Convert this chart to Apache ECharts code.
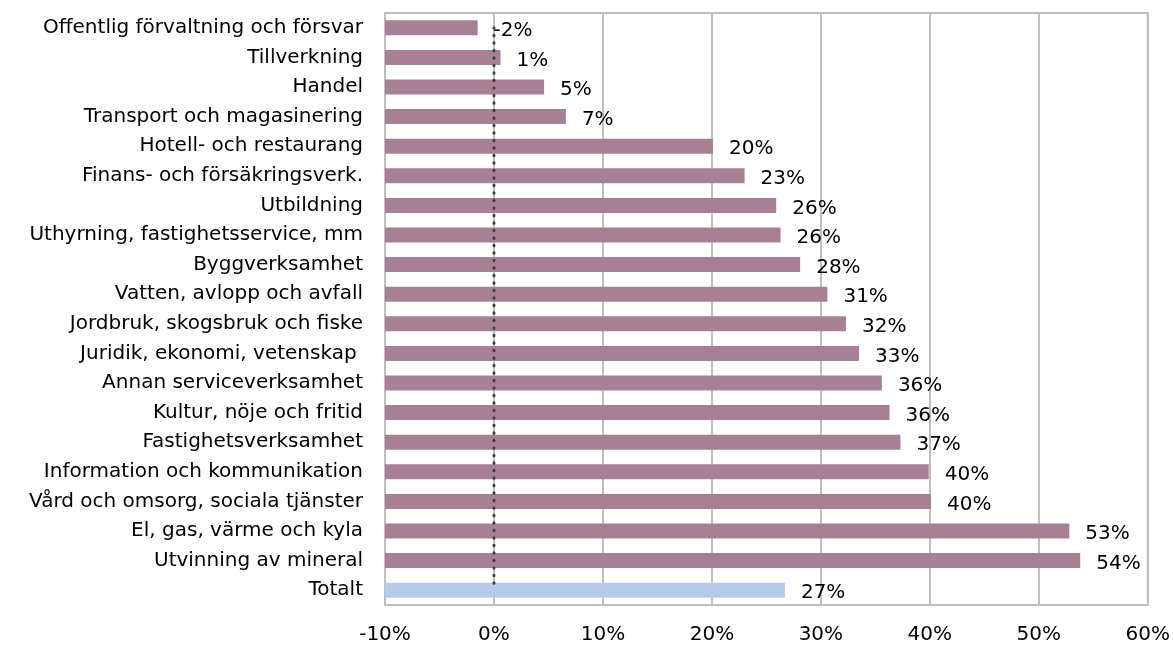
<!DOCTYPE html>
<html>
<head>
<meta charset="utf-8">
<script src="https://cdn.jsdelivr.net/npm/echarts@6/dist/echarts.min.js"></script>
<style>
html,body{margin:0;padding:0;background:#fff;}
#chart{width:1173px;height:645px;}
</style>
</head>
<body>
<div id="chart"></div>
<script>
var categories = [
  "Offentlig förvaltning och försvar",
  "Tillverkning",
  "Handel",
  "Transport och magasinering",
  "Hotell- och restaurang",
  "Finans- och försäkringsverk.",
  "Utbildning",
  "Uthyrning, fastighetsservice, mm",
  "Byggverksamhet",
  "Vatten, avlopp och avfall",
  "Jordbruk, skogsbruk och fiske",
  "Juridik, ekonomi, vetenskap ",
  "Annan serviceverksamhet",
  "Kultur, nöje och fritid",
  "Fastighetsverksamhet",
  "Information och kommunikation",
  "Vård och omsorg, sociala tjänster",
  "El, gas, värme och kyla",
  "Utvinning av mineral",
  "Totalt"
];
var values = [-1.5, 0.6, 4.6, 6.6, 20.1, 23.0, 25.9, 26.3, 28.1, 30.6, 32.3, 33.5, 35.6, 36.3, 37.3, 39.9, 40.1, 52.8, 53.8, 26.7];
var valueLabels = ["-2%", "1%", "5%", "7%", "20%", "23%", "26%", "26%", "28%", "31%", "32%", "33%", "36%", "36%", "37%", "40%", "40%", "53%", "54%", "27%"];
var zeroLine = [0, 0, 0, 0, 0, 0, 0, 0, 0, 0, 0, 0, 0, 0, 0, 0, 0, 0, 0, 0];
var xTicks = { min: -10, max: 60, interval: 10 };

var barColor = '#A88096';
var totalColor = '#B4CBEC';
var font = 'DejaVu Sans, sans-serif';
var fs = 20;

var chart = echarts.init(document.getElementById('chart'));
var barData = values.map(function (v, i) { return [v, categories[i]]; });

chart.setOption({
  animation: false,
  backgroundColor: '#fff',
  grid: {
    left: 385, right: 25, top: 13, bottom: 40,
    show: true, borderColor: '#BFBFBF', borderWidth: 2
  },
  xAxis: {
    type: 'value',
    min: xTicks.min, max: xTicks.max, interval: xTicks.interval,
    axisLine: { show: false },
    axisTick: { show: false },
    axisLabel: {
      formatter: '{value}%', color: '#000', fontSize: fs, fontFamily: font, margin: 20
    },
    splitLine: { show: true, lineStyle: { color: '#BFBFBF', width: 2 } }
  },
  yAxis: {
    type: 'category',
    data: categories,
    inverse: true,
    axisLine: { show: false },
    axisTick: { show: false },
    axisLabel: { color: '#000', fontSize: fs, fontFamily: font, margin: 22, interval: 0 }
  },
  series: [
    {
      type: 'custom',
      data: barData,
      encode: { x: 0, y: 1 },
      renderItem: function (params, api) {
        var v = api.value(0);
        var idx = api.value(1);
        var start = api.coord([xTicks.min, idx]);
        var end = api.coord([v, idx]);
        var h = 15;
        var isTotal = categories[params.dataIndex] === 'Totalt';
        return {
          type: 'rect',
          shape: { x: start[0], y: start[1] - h / 2, width: end[0] - start[0], height: h },
          style: { fill: isTotal ? totalColor : barColor },
          textContent: {
            style: {
              text: valueLabels[params.dataIndex],
              fill: '#000',
              fontSize: fs,
              fontFamily: font
            }
          },
          textConfig: { position: 'right', distance: 16, offset: [0, 3] }
        };
      },
      z: 2
    },
    {
      type: 'line',
      data: zeroLine,
      symbol: 'none',
      lineStyle: { color: '#404040', width: 3, type: [0.5, 7], cap: 'round' },
      z: 5
    }
  ]
});
</script>
</body>
</html>
